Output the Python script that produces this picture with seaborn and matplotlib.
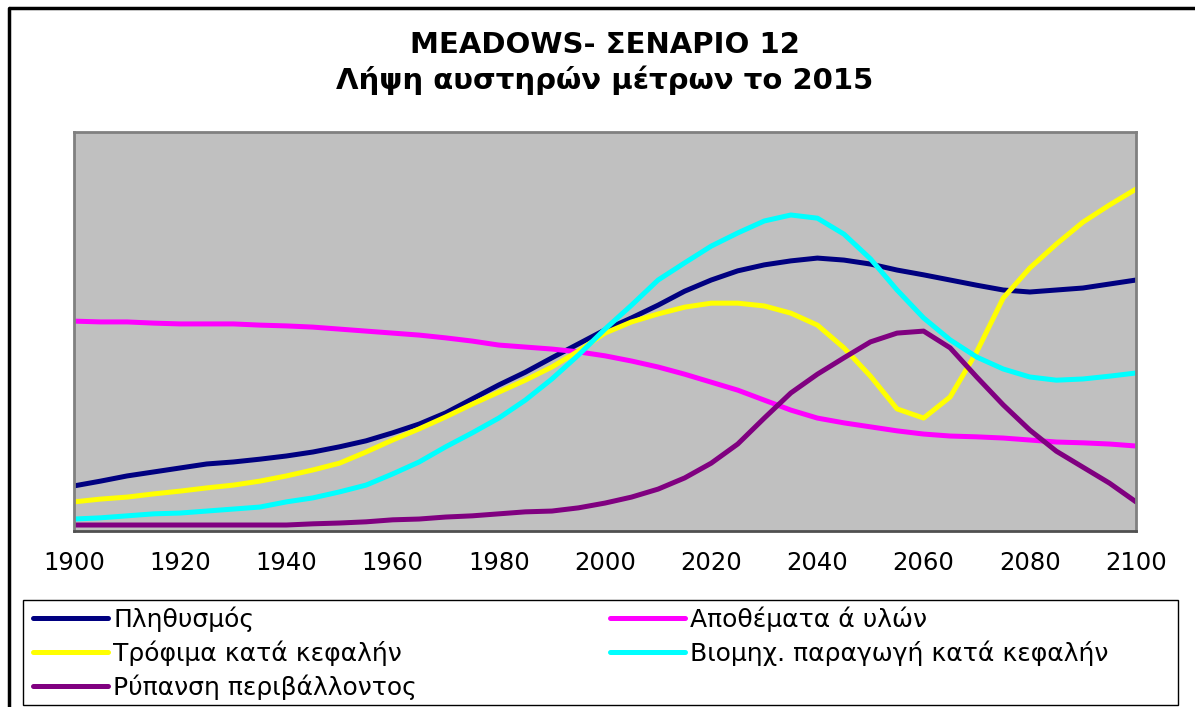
import matplotlib
matplotlib.use("Agg")
import matplotlib.pyplot as plt
from matplotlib.patches import Rectangle
from matplotlib.lines import Line2D
import seaborn as sns
import pandas as pd

# values (0-100 scale, no y labels shown)
years = list(range(1900, 2101, 5))
population = [11.3, 12.5, 13.8, 14.8, 15.8, 16.8, 17.3, 18.0, 18.8, 19.8, 21.1, 22.6, 24.6, 26.8,
              29.6, 33.1, 36.6, 39.8, 43.4, 46.9, 50.4, 53.4, 56.6, 60.1, 62.9, 65.2, 66.7, 67.7,
              68.4, 67.9, 66.9, 65.4, 64.2, 62.9, 61.6, 60.4, 59.9, 60.4, 60.9, 61.9, 62.9]
resources = [52.6, 52.4, 52.4, 52.1, 51.9, 51.9, 51.9, 51.6, 51.4, 51.1, 50.6, 50.1, 49.6, 49.1,
             48.4, 47.6, 46.6, 46.1, 45.6, 44.9, 43.9, 42.6, 41.1, 39.3, 37.3, 35.3, 32.8, 30.3,
             28.3, 27.1, 26.1, 25.1, 24.3, 23.8, 23.6, 23.3, 22.8, 22.3, 22.1, 21.8, 21.3]
food = [7.3, 8.0, 8.5, 9.3, 10.0, 10.8, 11.5, 12.5, 13.8, 15.3, 17.0, 19.8, 22.8, 25.6,
        28.6, 31.8, 34.8, 37.8, 41.1, 45.1, 49.6, 52.4, 54.4, 56.1, 57.1, 57.1, 56.4, 54.6,
        51.6, 45.9, 38.8, 30.6, 28.3, 33.6, 44.9, 58.4, 65.9, 71.9, 77.4, 81.7, 85.7]
industry = [3.0, 3.3, 3.8, 4.3, 4.5, 5.0, 5.5, 6.0, 7.3, 8.3, 9.8, 11.5, 14.3, 17.3,
            21.1, 24.6, 28.3, 32.8, 38.1, 44.1, 50.6, 56.6, 62.9, 67.2, 71.4, 74.7, 77.7, 79.2,
            78.4, 74.4, 68.2, 60.4, 53.4, 47.9, 43.6, 40.6, 38.6, 37.8, 38.1, 38.8, 39.6]
pollution = [1.5, 1.5, 1.5, 1.5, 1.5, 1.5, 1.5, 1.5, 1.5, 1.8, 2.0, 2.3, 2.8, 3.0,
             3.5, 3.8, 4.3, 4.8, 5.0, 5.8, 7.0, 8.5, 10.5, 13.3, 17.0, 21.8, 28.3, 34.6,
             39.3, 43.4, 47.4, 49.6, 50.1, 45.9, 38.6, 31.6, 25.3, 20.0, 16.0, 12.0, 7.3]

labels = ["Πληθυσμός", "Αποθέματα ά υλών", "Τρόφιμα κατά κεφαλήν",
          "Βιομηχ. παραγωγή κατά κεφαλήν", "Ρύπανση περιβάλλοντος"]
colors = ["#000080", "#FF00FF", "#FFFF00", "#00FFFF", "#800080"]
xticks = [1900, 1920, 1940, 1960, 1980, 2000, 2020, 2040, 2060, 2080, 2100]

series = [population, resources, food, industry, pollution]
df = pd.concat([pd.DataFrame({"year": years, "value": vals, "series": lab})
                for lab, vals in zip(labels, series)], ignore_index=True)

sns.set_style("white")
plt.rcParams["font.family"] = ["DejaVu Sans"]
plt.rcParams["text.color"] = "black"
plt.rcParams["xtick.color"] = "black"
plt.rcParams["xtick.labelcolor"] = "black"

W, H = 1195, 707
fig = plt.figure(figsize=(W / 100, H / 100), dpi=100)
ax = fig.add_axes([74 / W, 1 - 531 / H, (1136 - 74) / W, (531 - 132) / H])
ax.set_facecolor("#C0C0C0")

sns.lineplot(data=df, x="year", y="value", hue="series", hue_order=labels,
             palette=colors, linewidth=3.6, estimator=None, errorbar=None,
             legend=False, ax=ax)
for ln in ax.get_lines():
    ln.set_solid_capstyle("round")
    ln.set_solid_joinstyle("round")

ax.set_xlim(1900, 2100)
ax.set_ylim(0, 100)
ax.set_xticks(xticks)
ax.set_xticklabels([str(t) for t in xticks], fontsize=17.5)
ax.set_yticks([])
ax.set_xlabel("")
ax.set_ylabel("")
ax.tick_params(axis="x", direction="inout", length=9, width=1.2, color="black",
               labelcolor="black", pad=10)
for side in ["top", "right", "left"]:
    ax.spines[side].set_color("#808080")
    ax.spines[side].set_linewidth(2)
ax.spines["bottom"].set_color("#505050")
ax.spines["bottom"].set_linewidth(2)

# title
fig.text(605 / W, 1 - 45 / H, "MEADOWS- ΣΕΝΑΡΙΟ 12", ha="center", va="center",
         fontsize=21, fontweight="bold", color="black")
fig.text(605 / W, 1 - 80 / H, "Λήψη αυστηρών μέτρων το 2015", ha="center", va="center",
         fontsize=21, fontweight="bold", color="black")

# legend: two columns, Excel-like row order
lines = ax.get_lines()
leg_kw = dict(loc="upper left", frameon=False, fontsize=18, handlelength=3.0,
              handletextpad=0.2, labelspacing=0.34, borderpad=0, borderaxespad=0,
              bbox_transform=fig.transFigure, labelcolor="black")
leg1 = ax.legend([lines[0], lines[2], lines[4]], [labels[0], labels[2], labels[4]],
                 bbox_to_anchor=(33 / W, 1 - 606 / H), **leg_kw)
ax.add_artist(leg1)
ax.legend([lines[1], lines[3]], [labels[1], labels[3]],
          bbox_to_anchor=(610 / W, 1 - 606 / H), **leg_kw)

fig.add_artist(Rectangle((23 / W, 1 - 705 / H), (1178 - 23) / W, 105 / H,
                         transform=fig.transFigure, fill=False, ec="black", lw=1))
# outer chart border: only the top and left edges fall inside the picture
fig.add_artist(Line2D([9 / W, 9 / W], [0.0, 1 - 8 / H],
                      transform=fig.transFigure, color="black", lw=2.5))
fig.add_artist(Line2D([9 / W, 1.0], [1 - 8 / H, 1 - 8 / H],
                      transform=fig.transFigure, color="black", lw=2.5,
                      solid_capstyle="butt"))

fig.savefig("out.png", dpi=100)
